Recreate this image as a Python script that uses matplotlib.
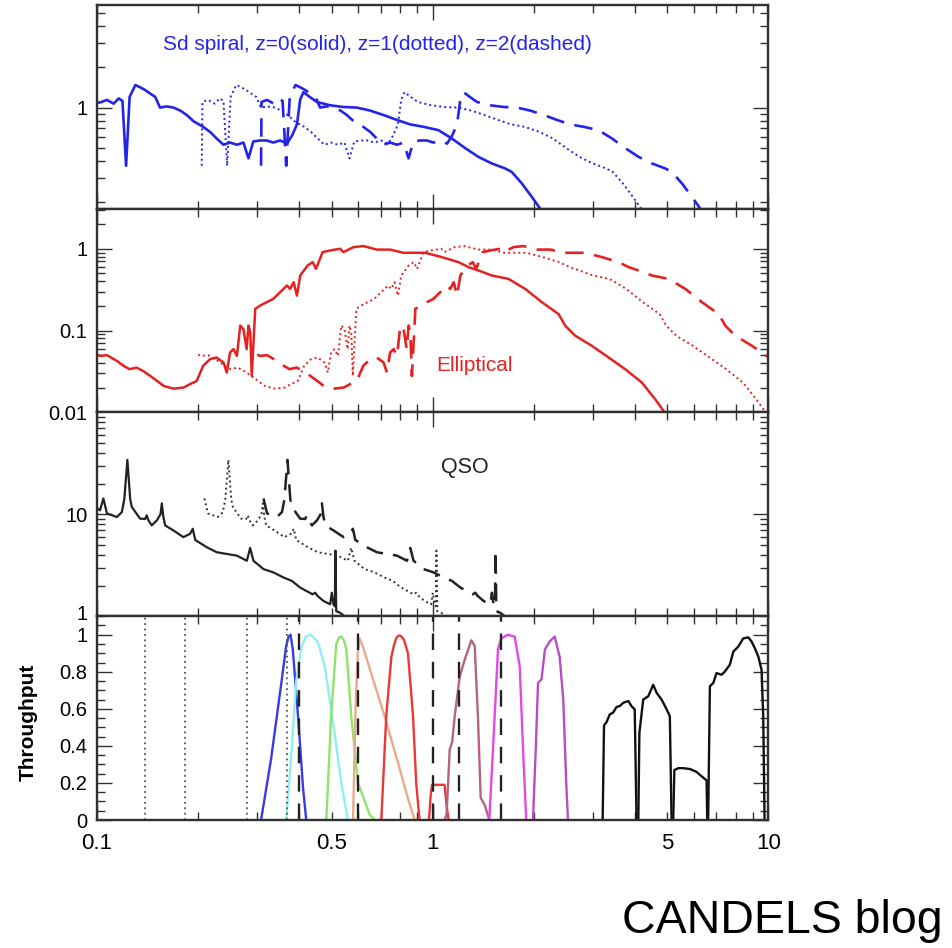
import numpy as np
import matplotlib
matplotlib.use("Agg")
import matplotlib.pyplot as plt
import matplotlib.transforms as mtrans
from matplotlib.ticker import FixedLocator, NullFormatter, LogLocator, FuncFormatter, MultipleLocator

plt.rcParams['font.family'] = ['Liberation Sans', 'DejaVu Sans']

# ---- Sd spiral (blue), wavelength in micron, normalised flux ----
sd_z0_lam = [0.100, 0.103, 0.107, 0.112, 0.116, 0.119, 0.122, 0.125, 0.130, 0.134,
             0.139, 0.144, 0.149, 0.154, 0.161, 0.169, 0.177, 0.185, 0.194, 0.207,
             0.217, 0.227, 0.238, 0.249, 0.261, 0.273, 0.2825, 0.292, 0.306, 0.320,
             0.335, 0.351, 0.368, 0.381, 0.394, 0.403, 0.412, 0.430, 0.452, 0.495,
             0.542, 0.594, 0.651, 0.714, 0.782, 0.857, 0.939, 1.04, 1.14, 1.25,
             1.37, 1.50, 1.645, 1.72, 1.845, 1.975, 2.09]
sd_z0_f = [1.08, 1.10, 1.14, 1.07, 1.17, 1.12, 0.37, 1.20, 1.47, 1.42,
           1.35, 1.27, 1.20, 1.00, 1.02, 1.00, 0.95, 0.88, 0.79, 0.72,
           0.66, 0.59, 0.53, 0.55, 0.53, 0.55, 0.42, 0.56, 0.57, 0.57,
           0.55, 0.57, 0.54, 0.62, 0.75, 1.15, 1.30, 1.20, 1.10, 1.04,
           1.01, 1.00, 0.95, 0.88, 0.81, 0.75, 0.72, 0.68, 0.59, 0.50,
           0.43, 0.385, 0.353, 0.333, 0.273, 0.217, 0.178]
sd_z1_lam = [0.205, 0.206, 0.214, 0.224, 0.232, 0.238, 0.244, 0.250, 0.260, 0.268,
             0.278, 0.288, 0.298, 0.308, 0.322, 0.338, 0.354, 0.370, 0.388, 0.414,
             0.434, 0.454, 0.476, 0.498, 0.522, 0.546, 0.565, 0.584, 0.612, 0.640,
             0.670, 0.702, 0.736, 0.762, 0.788, 0.806, 0.824, 0.860, 0.904, 0.990,
             1.084, 1.188, 1.302, 1.428, 1.564, 1.714, 1.878, 2.08, 2.28, 2.50,
             2.74, 3.00, 3.29, 3.44, 3.69, 3.95, 4.18]
sd_z1_f = [0.37, 1.10, 1.14, 1.07, 1.17, 1.12, 0.37, 1.20, 1.47, 1.42,
           1.35, 1.27, 1.20, 1.00, 1.02, 1.00, 0.95, 0.88, 0.79, 0.72,
           0.66, 0.59, 0.53, 0.55, 0.53, 0.55, 0.42, 0.56, 0.57, 0.57,
           0.55, 0.57, 0.54, 0.62, 0.75, 1.15, 1.30, 1.20, 1.10, 1.04,
           1.01, 1.00, 0.95, 0.88, 0.81, 0.75, 0.72, 0.66, 0.59, 0.50,
           0.43, 0.385, 0.353, 0.333, 0.273, 0.217, 0.178]
sd_z2_lam = [0.308, 0.309, 0.321, 0.336, 0.348, 0.357, 0.366, 0.375, 0.390, 0.402,
             0.417, 0.432, 0.447, 0.462, 0.483, 0.507, 0.531, 0.555, 0.582, 0.621,
             0.651, 0.681, 0.714, 0.747, 0.783, 0.819, 0.8475, 0.876, 0.918, 0.960,
             1.005, 1.053, 1.104, 1.143, 1.182, 1.209, 1.236, 1.290, 1.356, 1.485,
             1.626, 1.782, 1.953, 2.142, 2.346, 2.571, 2.817, 3.12, 3.42, 3.75,
             4.11, 4.50, 4.935, 5.16, 5.535, 5.925, 6.27]
sd_z2_f = [0.37, 1.10, 1.14, 1.07, 1.17, 1.12, 0.37, 1.20, 1.47, 1.42,
           1.35, 1.27, 1.20, 1.00, 1.02, 1.00, 0.95, 0.88, 0.79, 0.72,
           0.66, 0.59, 0.53, 0.55, 0.53, 0.55, 0.42, 0.56, 0.57, 0.57,
           0.55, 0.57, 0.54, 0.62, 0.75, 1.15, 1.30, 1.20, 1.10, 1.04,
           1.01, 1.00, 0.95, 0.88, 0.81, 0.75, 0.72, 0.68, 0.59, 0.50,
           0.43, 0.385, 0.353, 0.333, 0.273, 0.217, 0.178]

# ---- Elliptical (red) ----
ell_z0_lam = [0.100, 0.102, 0.107, 0.1145, 0.120, 0.125, 0.131, 0.137, 0.144, 0.151,
              0.158, 0.169, 0.181, 0.189, 0.198, 0.207, 0.217, 0.227, 0.238, 0.2435,
              0.249, 0.255, 0.261, 0.267, 0.273, 0.279, 0.2825, 0.286, 0.289, 0.296,
              0.306, 0.320, 0.335, 0.351, 0.368, 0.376, 0.385, 0.394, 0.403, 0.424,
              0.439, 0.449, 0.470, 0.495, 0.530, 0.542, 0.581, 0.622, 0.682, 0.747,
              0.818, 0.897, 0.950, 1.065, 1.194, 1.279, 1.369, 1.501, 1.683, 1.887,
              2.116, 2.372, 2.483, 2.66, 2.981, 3.343, 3.748, 4.203, 4.605, 4.877]
ell_f = [0.051, 0.049, 0.050, 0.0426, 0.037, 0.0337, 0.0353, 0.0321, 0.0279, 0.0242,
         0.021, 0.0195, 0.0201, 0.0221, 0.0242, 0.037, 0.0447, 0.0469, 0.0407, 0.0307,
         0.054, 0.0593, 0.049, 0.115, 0.104, 0.0593, 0.115, 0.095, 0.0279, 0.184,
         0.202, 0.222, 0.244, 0.294, 0.355, 0.323, 0.390, 0.2675, 0.471, 0.625,
         0.686, 0.568, 0.910, 0.954, 1.0, 0.91, 1.048, 1.078, 0.977, 0.977,
         0.893, 0.893, 0.893, 0.79, 0.686, 0.596, 0.542, 0.471, 0.428, 0.323,
         0.222, 0.159, 0.1146, 0.0864, 0.0651, 0.0469, 0.0337, 0.0231, 0.01445, 0.0104]
ell_z1_lam = [0.200, 0.204, 0.214, 0.229, 0.240, 0.250, 0.262, 0.274, 0.288, 0.302,
              0.316, 0.338, 0.362, 0.378, 0.396, 0.414, 0.434, 0.454, 0.476, 0.487,
              0.498, 0.510, 0.522, 0.534, 0.546, 0.558, 0.565, 0.572, 0.578, 0.592,
              0.612, 0.640, 0.670, 0.702, 0.736, 0.752, 0.770, 0.788, 0.806, 0.848,
              0.878, 0.898, 0.940, 0.990, 1.060, 1.084, 1.162, 1.244, 1.364, 1.494,
              1.636, 1.794, 1.900, 2.130, 2.388, 2.558, 2.738, 3.002, 3.366, 3.774,
              4.232, 4.744, 4.966, 5.32, 5.962, 6.686, 7.496, 8.406, 9.21, 9.754]
ell_z2_lam = [0.300, 0.306, 0.321, 0.3435, 0.360, 0.375, 0.393, 0.411, 0.432, 0.453,
              0.474, 0.507, 0.543, 0.567, 0.594, 0.621, 0.651, 0.681, 0.714, 0.7305,
              0.747, 0.765, 0.783, 0.801, 0.819, 0.837, 0.8475, 0.858, 0.867, 0.888,
              0.918, 0.960, 1.005, 1.053, 1.104, 1.128, 1.155, 1.182, 1.209, 1.272,
              1.317, 1.347, 1.410, 1.485, 1.590, 1.626, 1.743, 1.866, 2.046, 2.241,
              2.454, 2.691, 2.850, 3.195, 3.582, 3.837, 4.107, 4.503, 5.049, 5.661,
              6.348, 7.116, 7.449, 7.98, 8.943, 10.03, 11.25, 12.6, 13.8, 14.6]

# ---- QSO (black) ----
qso_z0_lam = [0.100, 0.102, 0.1044, 0.107, 0.1145, 0.1185, 0.1205, 0.1231, 0.1255, 0.1269,
              0.1343, 0.1390, 0.1406, 0.1420, 0.1455, 0.1507, 0.1545, 0.1559, 0.1575, 0.1595,
              0.1688, 0.1808, 0.1893, 0.1928, 0.1960, 0.2123, 0.2274, 0.2435, 0.2608, 0.2794,
              0.2858, 0.2923, 0.3131, 0.3353, 0.3590, 0.3805, 0.4028, 0.4387, 0.4465, 0.4540,
              0.4727, 0.4948, 0.5005, 0.5062, 0.5110, 0.5130, 0.5160, 0.5300, 0.5550]
qso_z0_f = [11.5, 10.95, 14.3, 10.2, 9.41, 10.5, 14.0, 34.2, 14.0, 11.8,
            9.06, 9.0, 9.77, 8.8, 7.78, 8.72, 10.0, 12.8, 9.5, 7.78,
            6.94, 5.97, 6.44, 7.21, 5.6, 4.75, 4.24, 4.08, 3.93, 3.50,
            4.68, 3.50, 2.90, 2.69, 2.40, 2.22, 1.91, 1.64, 1.70, 1.58,
            1.41, 1.31, 1.70, 1.31, 1.25, 4.40, 1.12, 1.08, 0.96]
qso_z1_lam = [0.2088, 0.214, 0.229, 0.237, 0.241, 0.2462, 0.251, 0.2538, 0.2686, 0.278,
              0.2812, 0.284, 0.291, 0.3014, 0.309, 0.3118, 0.315, 0.319, 0.3376, 0.3616,
              0.3786, 0.3856, 0.392, 0.4246, 0.4548, 0.487, 0.5216, 0.5588, 0.5716, 0.5846,
              0.6262, 0.6706, 0.718, 0.761, 0.8056, 0.8774, 0.893, 0.908, 0.9454, 0.9896,
              1.001, 1.0124, 1.022, 1.026, 1.032, 1.06, 1.11]
qso_z2_lam = [0.3132, 0.321, 0.3435, 0.3555, 0.3615, 0.3693, 0.3765, 0.3807, 0.4029, 0.417,
              0.4218, 0.426, 0.4365, 0.4521, 0.4635, 0.4677, 0.4725, 0.4785, 0.5064, 0.5424,
              0.5679, 0.5784, 0.588, 0.6369, 0.6822, 0.7305, 0.7824, 0.8382, 0.8574, 0.8769,
              0.9393, 1.0059, 1.077, 1.1415, 1.2084, 1.3161, 1.3395, 1.362, 1.4181, 1.4844,
              1.5015, 1.5186, 1.533, 1.539, 1.548, 1.59, 1.665]
qso_hiz_f = [14.3, 10.2, 9.41, 10.5, 14.0, 34.2, 14.0, 11.8, 9.06, 9.0,
             9.77, 8.8, 7.78, 8.72, 10.0, 12.8, 9.5, 7.78, 6.94, 5.97,
             6.44, 7.21, 5.6, 4.75, 4.24, 4.08, 3.93, 3.50, 4.68, 3.50,
             2.90, 2.69, 2.40, 2.22, 1.91, 1.64, 1.70, 1.58, 1.41, 1.31,
             1.70, 1.31, 1.25, 4.40, 1.12, 1.08, 0.96]

# ---- filter throughputs ----
filt_u_lam = [0.308, 0.330, 0.354, 0.366, 0.372, 0.377, 0.383, 0.397, 0.411, 0.420]
filt_u_t = [0, 0.33, 0.74, 0.94, 0.99, 1.0, 0.92, 0.56, 0.17, 0]
filt_b_lam = [0.366, 0.379, 0.392, 0.406, 0.419, 0.434, 0.455, 0.477, 0.510, 0.534, 0.559]
filt_b_t = [0, 0.35, 0.75, 0.93, 0.99, 1.0, 0.96, 0.83, 0.47, 0.20, 0]
filt_v_lam = [0.482, 0.498, 0.516, 0.526, 0.534, 0.544, 0.553, 0.572, 0.599, 0.649, 0.672]
filt_v_t = [0, 0.56, 0.95, 0.985, 0.99, 0.97, 0.92, 0.56, 0.20, 0.03, 0]
filt_r_lam = [0.579, 0.589, 0.598, 0.606, 0.621, 0.656, 0.719, 0.788, 0.844, 0.884]
filt_r_t = [0, 0.60, 0.90, 0.98, 0.93, 0.79, 0.56, 0.31, 0.115, 0]
filt_i_lam = [0.703, 0.727, 0.753, 0.766, 0.778, 0.790, 0.801, 0.812, 0.822, 0.844, 0.874, 0.893, 0.914]
filt_i_t = [0, 0.56, 0.88, 0.94, 0.98, 0.995, 0.995, 0.985, 0.97, 0.90, 0.56, 0.20, 0]
filt_z_lam = [0.975, 0.985, 0.995, 1.085, 1.10, 1.115]
filt_z_t = [0, 0.12, 0.19, 0.19, 0.08, 0]
filt_j_lam = [1.085, 1.10, 1.124, 1.143, 1.163, 1.204, 1.245, 1.304, 1.334, 1.364, 1.39, 1.41, 1.43, 1.475]
filt_j_t = [0, 0.03, 0.38, 0.42, 0.56, 0.775, 0.864, 0.97, 0.94, 0.56, 0.12, 0.10, 0.08, 0]
filt_h_lam = [1.475, 1.53, 1.565, 1.60, 1.675, 1.755, 1.817, 1.859, 1.90]
filt_h_t = [0, 0.56, 0.92, 0.98, 1.0, 0.99, 0.83, 0.38, 0]
filt_k_lam = [1.99, 2.03, 2.06, 2.11, 2.16, 2.23, 2.31, 2.39, 2.45, 2.50, 2.53]
filt_k_t = [0, 0.40, 0.74, 0.76, 0.92, 0.963, 0.99, 0.88, 0.65, 0.20, 0]
irac1_lam = [3.21, 3.24, 3.30, 3.37, 3.45, 3.53, 3.61, 3.70, 3.83, 3.91, 4.00, 4.05]
irac1_t = [0, 0.51, 0.53, 0.57, 0.58, 0.61, 0.615, 0.633, 0.642, 0.615, 0.597, 0]
irac2_lam = [4.10, 4.13, 4.24, 4.39, 4.54, 4.65, 4.81, 4.98, 5.09, 5.15]
irac2_t = [0, 0.47, 0.65, 0.668, 0.73, 0.686, 0.65, 0.597, 0.56, 0]
irac3_lam = [5.21, 5.25, 5.40, 5.58, 5.85, 6.11, 6.34, 6.55, 6.58]
irac3_t = [0, 0.27, 0.28, 0.28, 0.275, 0.26, 0.235, 0.214, 0]
irac4_lam = [6.62, 6.70, 6.86, 7.01, 7.26, 7.43, 7.68, 7.87, 8.14, 8.42, 8.72, 8.92, 9.12, 9.34, 9.55, 9.66, 9.75]
irac4_t = [0, 0.722, 0.74, 0.793, 0.784, 0.802, 0.838, 0.909, 0.936, 0.98, 0.986, 0.963, 0.927, 0.882, 0.811, 0.56, 0]

lyman_lines = [0.139, 0.183, 0.279, 0.367]
break_lines = [0.40, 0.60, 1.0, 1.2, 1.6]

BLUE = '#2424e8'
RED = '#e52222'
DOT = (0, (1, 1.6))
DASH = (0, (7, 4))

fig, axes = plt.subplots(4, 1, figsize=(9.52, 9.48), dpi=100, sharex=True)
fig.subplots_adjust(left=0.102, right=0.807, bottom=0.135, top=0.995, hspace=0)
ax1, ax2, ax3, ax4 = axes


def style_axis(ax):
    ax.set_xscale('log')
    ax.set_xlim(0.1, 10)
    ax.xaxis.set_major_locator(FixedLocator([0.1, 1, 10]))
    ax.xaxis.set_minor_locator(LogLocator(base=10, subs=np.arange(2, 10), numticks=20))
    ax.tick_params(which='both', direction='in', top=True, right=True,
                   color='#303030', width=1.0, pad=7)
    ax.tick_params(axis='x', which='both', labelsize=16)
    ax.tick_params(axis='y', which='both', labelsize=14.5)
    ax.tick_params(which='major', length=11)
    ax.tick_params(which='minor', length=6)
    for s in ax.spines.values():
        s.set_linewidth(1.7)
        s.set_color('#303030')


def log_y(ax, lo, hi, majors, labels):
    ax.set_yscale('log')
    ax.set_ylim(lo, hi)
    ax.yaxis.set_major_locator(FixedLocator(majors))
    ax.yaxis.set_major_formatter(FuncFormatter(lambda v, p: labels[p] if p < len(labels) else ''))
    ax.yaxis.set_minor_locator(LogLocator(base=10, subs=np.arange(2, 10), numticks=20))
    ax.yaxis.set_minor_formatter(NullFormatter())


for ax in axes:
    style_axis(ax)

# panel 1: spiral
ax1.plot(sd_z0_lam, sd_z0_f, color=BLUE, lw=1.9)
ax1.plot(sd_z1_lam, sd_z1_f, color=BLUE, lw=1.4, ls=DOT)
ax1.plot(sd_z2_lam, sd_z2_f, color=BLUE, lw=1.9, ls=DASH)
log_y(ax1, 0.178, 5.8, [1], ['1'])
ax1.text(0.418, 0.805, 'Sd spiral, z=0(solid), z=1(dotted), z=2(dashed)', color=BLUE,
         fontsize=15, ha='center', va='center', transform=ax1.transAxes)

# panel 2: elliptical
ax2.plot(ell_z0_lam, ell_f, color=RED, lw=1.8)
ax2.plot(ell_z1_lam, ell_f, color=RED, lw=1.4, ls=DOT)
ax2.plot(ell_z2_lam, ell_f, color=RED, lw=1.9, ls=DASH)
log_y(ax2, 0.01, 3.1, [0.01, 0.1, 1], ['0.01', '0.1', '1'])
ax2.text(0.563, 0.228, 'Elliptical', color=RED, fontsize=15, ha='center', va='center',
         transform=ax2.transAxes)

# panel 3: QSO
ax3.plot(qso_z0_lam, qso_z0_f, color='#222222', lw=1.6)
ax3.plot(qso_z1_lam, qso_hiz_f, color='#333333', lw=1.4, ls=DOT)
ax3.plot(qso_z2_lam, qso_hiz_f, color='#222222', lw=1.8, ls=DASH)
log_y(ax3, 1, 100, [1, 10], ['1', '10'])
ax3.text(0.548, 0.729, 'QSO', color='#222222', fontsize=15.5, ha='center', va='center',
         transform=ax3.transAxes)

# panel 4: filter throughputs
filters = [
    (filt_u_lam, filt_u_t, '#3a3ae0'),
    (filt_b_lam, filt_b_t, '#8ef0f0'),
    (filt_v_lam, filt_v_t, '#8ee466'),
    (filt_r_lam, filt_r_t, '#e8aa8c'),
    (filt_i_lam, filt_i_t, '#e83838'),
    (filt_z_lam, filt_z_t, '#e83838'),
    (filt_j_lam, filt_j_t, '#b4647c'),
    (filt_h_lam, filt_h_t, '#e448e4'),
    (filt_k_lam, filt_k_t, '#b84cc4'),
    (irac1_lam, irac1_t, '#111111'),
    (irac2_lam, irac2_t, '#111111'),
    (irac3_lam, irac3_t, '#111111'),
    (irac4_lam, irac4_t, '#111111'),
]
for lam, t, c in filters:
    ax4.plot(lam, t, color=c, lw=1.7)
for x in lyman_lines:
    ax4.axvline(x, color='#555555', lw=1.3, ls=(0, (1, 2)))
for x in break_lines:
    ax4.axvline(x, color='#222222', lw=1.7, ls=(0, (7, 5)))
ax4.set_ylim(0, 1.1)
ax4.yaxis.set_major_locator(MultipleLocator(0.2))
ax4.yaxis.set_minor_locator(MultipleLocator(0.05))
ax4.yaxis.set_major_formatter(FuncFormatter(lambda v, p: '%g' % round(v, 2)))

for ax in (ax1, ax2, ax3):
    ax.tick_params(axis='x', which='both', labelbottom=False)

ax4.xaxis.set_major_formatter(FuncFormatter(lambda v, p: '%g' % v))
ax4.xaxis.set_minor_formatter(FuncFormatter(
    lambda v, p: '0.5' if abs(v - 0.5) < 1e-6 else ('5' if abs(v - 5) < 1e-6 else '')))
ax4.tick_params(axis='x', which='both', pad=9)

# nudge the QSO panel's "1" up a little so it clears the throughput "1"
lbl = ax3.yaxis.get_major_ticks()[0].label1
lbl.set_transform(lbl.get_transform() + mtrans.ScaledTranslation(0, 3 / 72, fig.dpi_scale_trans))

fig.text(0.030, 0.238, 'Throughput', rotation=90, fontsize=15, fontweight='bold',
         ha='center', va='center')
fig.text(0.822, 0.029, 'CANDELS blog', fontsize=33.5, ha='center', va='center')

fig.savefig('out.png', dpi=100)
